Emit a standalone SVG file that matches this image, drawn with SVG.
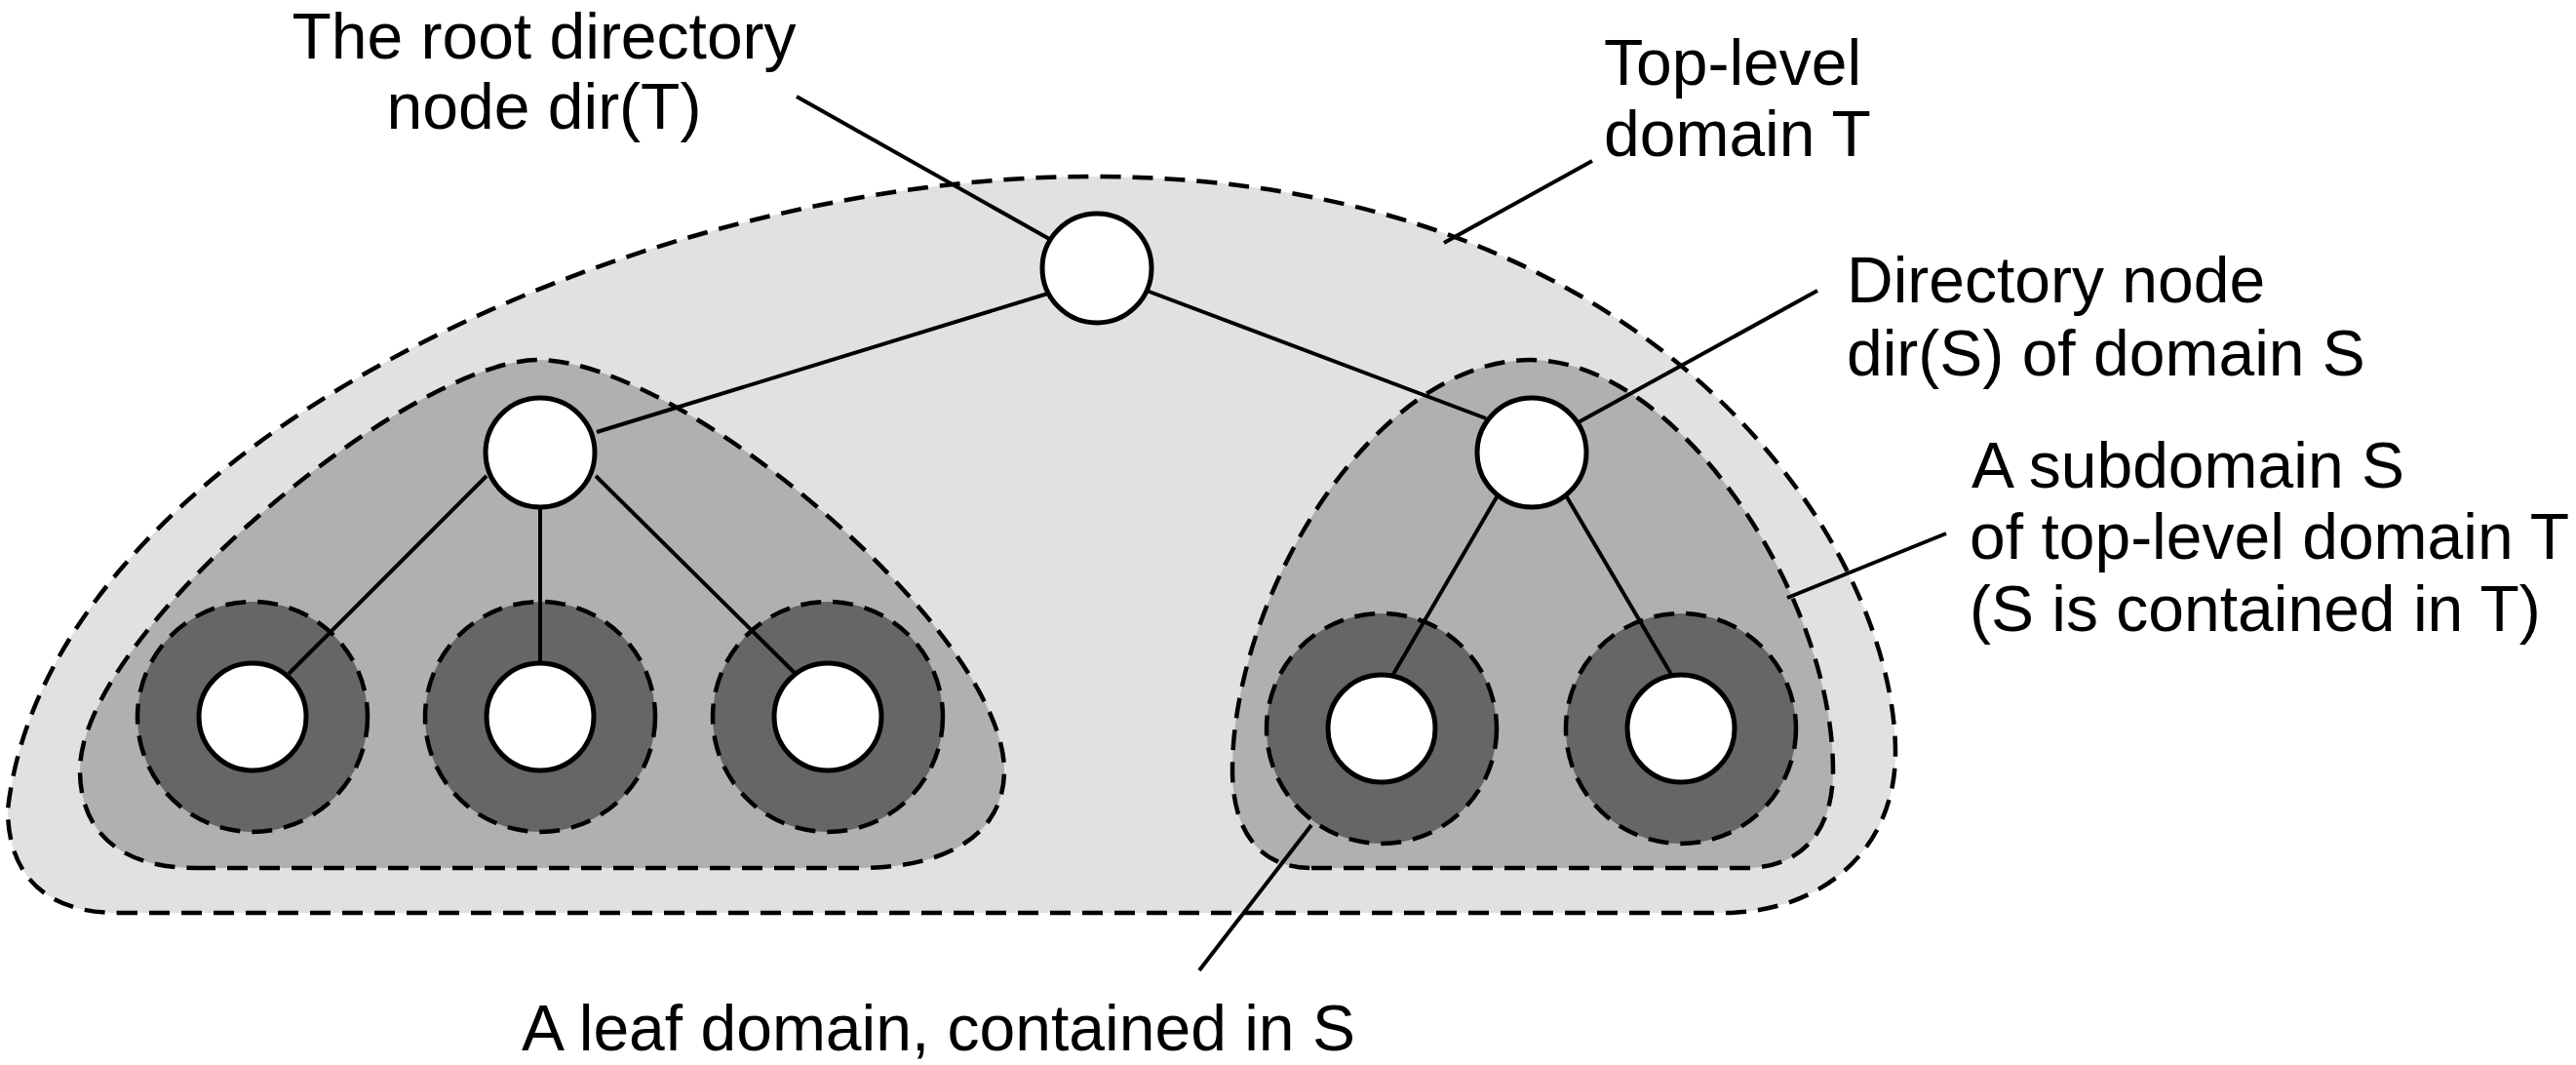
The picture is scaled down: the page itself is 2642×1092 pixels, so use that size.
<svg xmlns="http://www.w3.org/2000/svg" width="2642" height="1092" viewBox="0 0 2642 1092">
<style>
.dom{stroke:#000;stroke-width:4.5;stroke-dasharray:21 12;}
.d1{fill:#e1e1e1;}
.d2{fill:#b0b0b0;}
.d3{fill:#666666;}
.node{fill:#fff;stroke:#000;stroke-width:5;}
.ln{stroke:#000;stroke-width:4;fill:none;stroke-linecap:butt;}
text{font-family:"Liberation Sans",Arial,sans-serif;font-size:66px;fill:#000;}
</style>
<rect width="2642" height="1092" fill="#fff"/>
<g id="domain-T">
<path class="dom d1" d="M 120 936 L 1767 936 C 1870 936 1944 870 1944 772 C 1944 560 1700 181 1120 181 C 650 181 50 460 8 830 C 8 900 50 936 120 936 Z"/>
</g>
<g id="domain-S-left">
<path class="dom d2" d="M 200 890 L 880 890 C 980 890 1030 850 1030 790 C 1030 650 700 369 552 369 C 420 369 82 650 82 790 C 82 850 120 890 200 890 Z"/>
</g>
<g id="domain-S-right">
<path class="dom d2" d="M 1345 890 L 1790 890 C 1850 890 1880 850 1880 790 C 1880 610 1720 369 1570 369 C 1410 369 1264 610 1264 790 C 1264 850 1290 890 1345 890 Z"/>
</g>
<g id="leaf-domains">
<circle class="dom d3" cx="259" cy="735" r="118"/>
<circle class="dom d3" cx="554" cy="735" r="118"/>
<circle class="dom d3" cx="849" cy="735" r="118"/>
<circle class="dom d3" cx="1417" cy="747" r="118"/>
<circle class="dom d3" cx="1724" cy="747" r="118"/>
</g>
<g id="connectors">
<line class="ln" x1="1078" y1="300" x2="612" y2="443"/>
<line class="ln" x1="1176" y1="298" x2="1524" y2="429"/>
<line class="ln" x1="499" y1="488" x2="296" y2="691"/>
<line class="ln" x1="554" y1="518" x2="554" y2="681"/>
<line class="ln" x1="611" y1="488" x2="816" y2="691"/>
<line class="ln" x1="1536" y1="508" x2="1428" y2="693"/>
<line class="ln" x1="1606" y1="508" x2="1715" y2="693"/>
</g>
<g id="label-lines">
<line class="ln" x1="817" y1="99" x2="1078" y2="246"/>
<line class="ln" x1="1633" y1="165" x2="1481" y2="249"/>
<line class="ln" x1="1864" y1="298" x2="1617" y2="434"/>
<line class="ln" x1="1996" y1="547" x2="1833" y2="613"/>
<line class="ln" x1="1230" y1="995" x2="1345" y2="846"/>
</g>
<g id="node-root"><circle class="node" cx="1125" cy="275" r="56"/></g>
<g id="node-dirS-left"><circle class="node" cx="554" cy="464" r="56"/></g>
<g id="node-dirS-right"><circle class="node" cx="1571" cy="464" r="56"/></g>
<g id="node-leaf-1"><circle class="node" cx="259" cy="735" r="55"/></g>
<g id="node-leaf-2"><circle class="node" cx="554" cy="735" r="55"/></g>
<g id="node-leaf-3"><circle class="node" cx="849" cy="735" r="55"/></g>
<g id="node-leaf-4"><circle class="node" cx="1417" cy="747" r="55"/></g>
<g id="node-leaf-5"><circle class="node" cx="1724" cy="747" r="55"/></g>
<g id="labels">
<text x="558" y="60" text-anchor="middle">The root directory</text>
<text x="558" y="132" text-anchor="middle">node dir(T)</text>
<text x="1645" y="87">Top-level</text>
<text x="1645" y="160">domain T</text>
<text x="1894" y="310">Directory node</text>
<text x="1894" y="385">dir(S) of domain S</text>
<text x="2022" y="500">A subdomain S</text>
<text x="2020" y="573">of top-level domain T</text>
<text x="2020" y="647">(S is contained in T)</text>
<text x="535" y="1077">A leaf domain, contained in S</text>
</g>
</svg>
